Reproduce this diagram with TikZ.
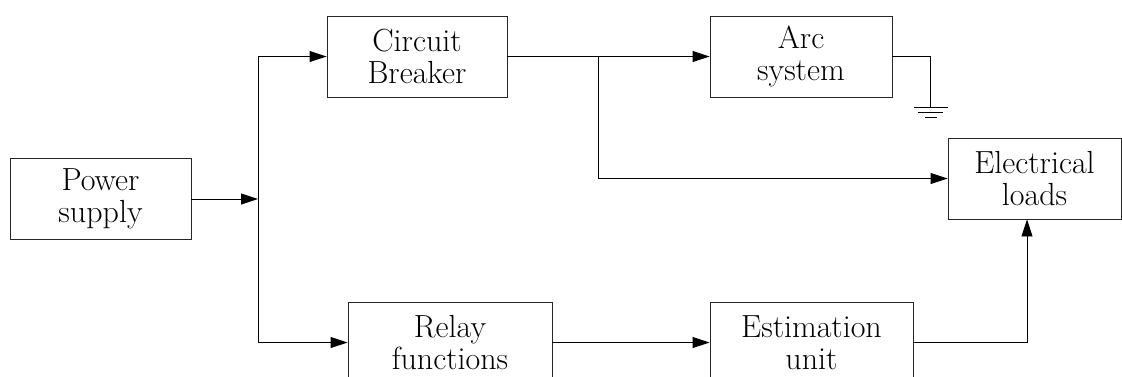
\documentclass[tikz,border=0pt]{standalone}
\usepackage{fontspec}
\usetikzlibrary{arrows.meta}
\begin{document}
\begin{tikzpicture}[x=1pt,y=1pt,
  blk/.style={draw=black!85, line width=0.9pt, inner sep=0pt, align=center,
    minimum height=81pt, font=\fontsize{32}{32}\selectfont},
  wire/.style={line width=0.9pt, black},
  flow/.style={wire, -{Triangle[length=17pt,width=11pt]}}]
\useasboundingbox (0,0) rectangle (1122,-376);
\clip (0,0) rectangle (1122,-376);
% blocks
\node[blk, minimum width=181pt] (ps)  at (100.5,-199)   {Power\\supply};
\node[blk, minimum width=180pt] (cb)  at (417,-56.5)    {Circuit\\Breaker};
\node[blk, minimum width=182pt] (arc) at (801,-56.5)    {Arc\\system};
\node[blk, minimum width=173pt] (el)  at (1034.5,-178.5){Electrical\\loads};
\node[blk, minimum width=204pt] (rf)  at (450,-342.5)   {Relay\\functions};
\node[blk, minimum width=203pt] (eu)  at (811.5,-342.5) {Estimation\\unit};
% junction points
\coordinate (bus)    at (258,-199);
\coordinate (busTop) at (258,-56.5);
\coordinate (busBot) at (258,-342.5);
\coordinate (tap)    at (598,-56.5);
\coordinate (gnd)    at (930,-107);
% power distribution
\draw[flow] (ps.east) -- (bus);
\draw[wire] (busTop) -- (busBot);
\draw[flow] (busTop) -- (cb.west);
\draw[flow] (busBot) -- (rf.west);
\draw[flow] (cb.east) -- (arc.west);
\draw[flow] (tap) |- (el.west);
\draw[flow] (rf.east) -- (eu.west);
\draw[flow] (eu.east) -| (el.south -| 1027,0);
% earthing of the arc system
\draw[wire] (arc.east) -| (gnd);
\draw[wire] ([xshift=-16pt]gnd) -- ([xshift=18pt]gnd);
\draw[wire] ([xshift=-12pt,yshift=-5pt]gnd) -- ([xshift=13pt,yshift=-5pt]gnd);
\draw[wire] ([xshift=-5pt,yshift=-10pt]gnd) -- ([xshift=7pt,yshift=-10pt]gnd);
\end{tikzpicture}
\end{document}
